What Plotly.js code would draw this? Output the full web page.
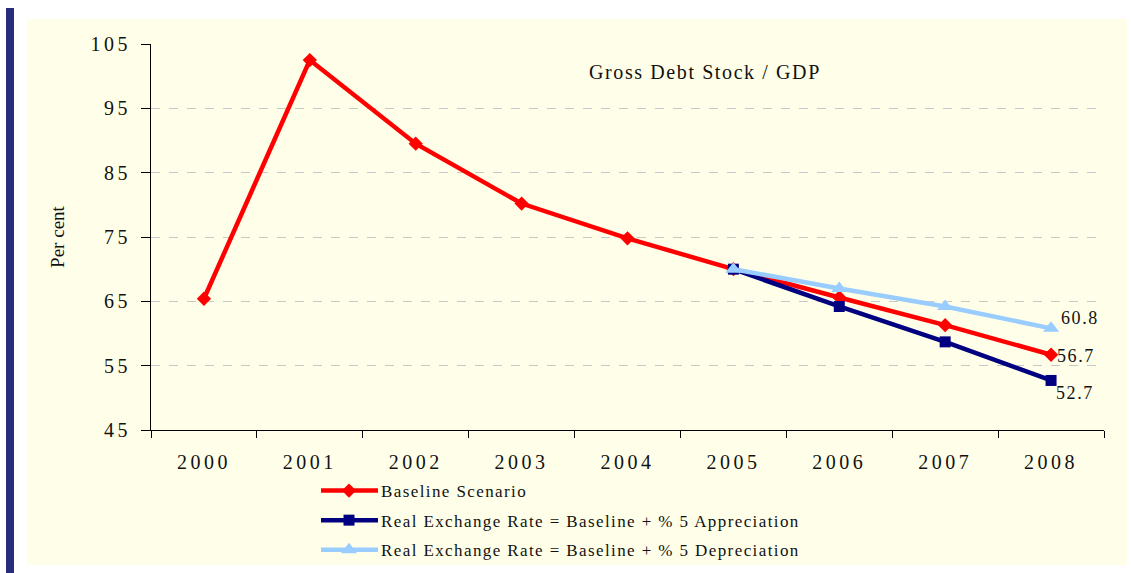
<!DOCTYPE html>
<html>
<head>
<meta charset="utf-8">
<script src="https://cdn.plot.ly/plotly-3.0.1.min.js"></script>
<style>
  html, body { margin: 0; padding: 0; background: #ffffff; }
  #chart { width: 1131px; height: 573px; }
  .xtick text, .ytick text { letter-spacing: 3.5px; }
  .legendtext { letter-spacing: 1.4px; }
  .annotation-text { letter-spacing: 1.6px; }
  .legendlines path.js-line { d: path("M5,0h57"); }
  .legendpoints path.scatterpts { transform: translate(33px, 0px); }
</style>
</head>
<body>
<div id="chart"></div>
<script>
const years = ['2000', '2001', '2002', '2003', '2004', '2005', '2006', '2007', '2008'];
const scenarioYears = ['2005', '2006', '2007', '2008'];
const baseline = [65.4, 102.5, 89.5, 80.2, 74.8, 70.0, 65.6, 61.3, 56.7];
const appreciation = [70.0, 64.2, 58.7, 52.7];
const depreciation = [70.0, 67.0, 64.2, 60.8];
const seriesNames = [
  'Baseline Scenario',
  'Real Exchange Rate = Baseline + % 5 Appreciation',
  'Real Exchange Rate = Baseline + % 5 Depreciation'
];
const yTicks = [45, 55, 65, 75, 85, 95, 105];

const W = 1131, H = 573;
const L = 151, R = 1104, T = 44, B = 430;
const px = v => (v - L) / (R - L);
const py = v => (B - v) / (B - T);

const font = 'Liberation Serif, Times New Roman, serif';
const ink = '#111111';

const traces = [
  {
    x: years, y: baseline, name: seriesNames[0], type: 'scatter', mode: 'lines+markers',
    line: { color: '#FF0000', width: 4.5 },
    marker: { symbol: 'diamond', size: 11, color: '#FF0000' },
    legendgroup: 'a'
  },
  {
    x: scenarioYears, y: appreciation, name: seriesNames[1], type: 'scatter', mode: 'lines+markers',
    line: { color: '#000080', width: 4.5 },
    marker: { symbol: 'square', size: 11, color: '#000080' },
    legendgroup: 'b'
  },
  {
    x: scenarioYears, y: depreciation, name: seriesNames[2], type: 'scatter', mode: 'lines+markers',
    line: { color: '#99CCFF', width: 4.5 },
    marker: { symbol: 'triangle-up', size: 14, color: '#99CCFF' },
    legendgroup: 'c'
  }
];

const last = arr => arr[arr.length - 1];
const lastIdx = years.length - 1;

const layout = {
  width: W, height: H,
  margin: { l: L, r: W - R, t: T, b: H - B, pad: 0, autoexpand: false },
  paper_bgcolor: '#ffffff',
  plot_bgcolor: 'rgba(0,0,0,0)',
  showlegend: true,
  font: { family: font, color: ink, size: 16 },
  xaxis: {
    type: 'category', categoryorder: 'array', categoryarray: years,
    range: [-0.5, years.length - 0.5], autorange: false,
    tickson: 'boundaries', ticks: 'outside', ticklen: 7, tickcolor: '#000', tickwidth: 1,
    showline: true, linecolor: '#000', linewidth: 1,
    showgrid: false, zeroline: false, tickangle: 0,
    tickfont: { family: font, size: 20, color: ink },
    ticklabelstandoff: 14,
    automargin: false,
    fixedrange: true
  },
  yaxis: {
    range: [45, 105], autorange: false, tickvals: yTicks, ticktext: yTicks.map(String),
    ticks: 'outside', ticklen: 9, tickcolor: '#000', tickwidth: 1,
    showline: true, linecolor: '#000', linewidth: 1,
    showgrid: true, gridcolor: '#c8c8c8', griddash: 'dash', gridwidth: 1,
    zeroline: false,
    tickfont: { family: font, size: 20, color: ink },
    ticklabelstandoff: 6,
    title: { text: 'Per cent', font: { family: font, size: 19, color: ink }, standoff: 20 },
    automargin: false,
    fixedrange: true
  },
  legend: {
    orientation: 'v', x: px(316), xanchor: 'left', y: py(473), yanchor: 'top',
    bgcolor: 'rgba(0,0,0,0)', borderwidth: 0,
    font: { family: font, size: 17, color: ink },
    tracegroupgap: 4.5, itemwidth: 55
  },
  shapes: [
    { type: 'rect', xref: 'paper', yref: 'paper', layer: 'below',
      x0: px(27), x1: px(1127), y0: py(565), y1: py(19),
      fillcolor: '#FFFFE9', line: { width: 0 } },
    { type: 'rect', xref: 'paper', yref: 'paper', layer: 'below',
      x0: px(6), x1: px(14), y0: py(573), y1: py(8),
      fillcolor: '#2B2B7B', line: { width: 0 } }
  ],
  annotations: [
    { xref: 'paper', yref: 'paper', x: px(705), y: py(72), text: 'Gross Debt Stock / GDP',
      showarrow: false, xanchor: 'center', yanchor: 'middle',
      font: { family: font, size: 20, color: ink } },
    { xref: 'x', yref: 'y', x: lastIdx, y: last(depreciation), text: last(depreciation).toFixed(1),
      showarrow: false, xanchor: 'left', yanchor: 'middle', xshift: 8, yshift: 10,
      font: { family: font, size: 18, color: ink } },
    { xref: 'x', yref: 'y', x: lastIdx, y: last(baseline), text: last(baseline).toFixed(1),
      showarrow: false, xanchor: 'left', yanchor: 'middle', xshift: 4, yshift: -1,
      font: { family: font, size: 18, color: ink } },
    { xref: 'x', yref: 'y', x: lastIdx, y: last(appreciation), text: last(appreciation).toFixed(1),
      showarrow: false, xanchor: 'left', yanchor: 'middle', xshift: 3, yshift: -13,
      font: { family: font, size: 18, color: ink } }
  ]
};

Plotly.newPlot('chart', traces, layout, { displayModeBar: false, staticPlot: true });
</script>
</body>
</html>
